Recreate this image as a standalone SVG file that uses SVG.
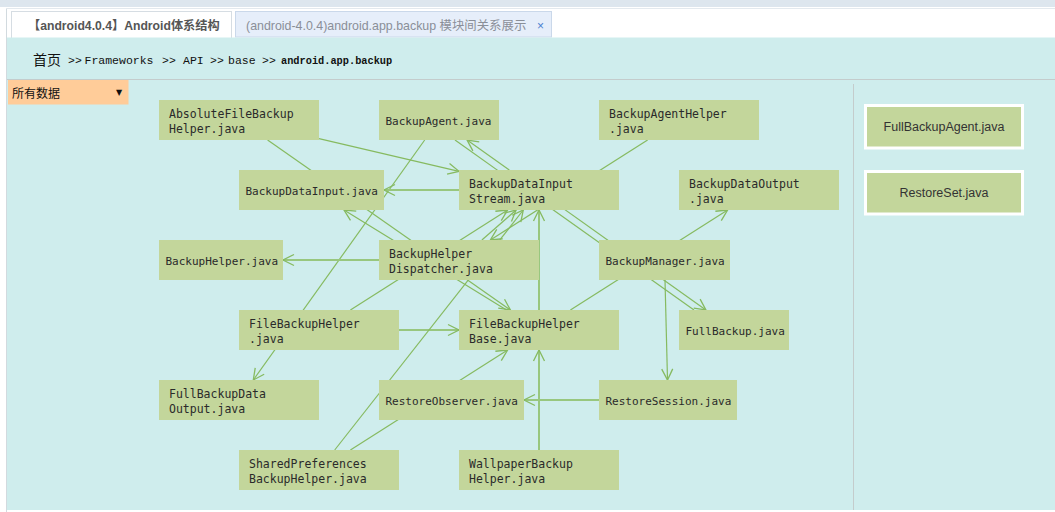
<svg xmlns="http://www.w3.org/2000/svg" width="1055" height="512" viewBox="0 0 1055 512">
<style>
.n rect{fill:#c3d69b}
.t{font-family:"DejaVu Sans Mono","Liberation Mono",monospace;fill:#2a2a2a}
.s{font-size:11px}
.d{font-size:11.5px}
.e{stroke:#86ba60;stroke-width:1.2;fill:none}
.h{stroke:#98c77e;stroke-width:2;fill:none}
.ar{marker-end:url(#a)}
.ab{marker-start:url(#b);marker-end:url(#a)}
.rp rect{fill:#c3d69b;stroke:#ffffff;stroke-width:3}
.rt{font-family:"Liberation Sans",Arial,sans-serif;font-size:12.5px;fill:#333;text-anchor:middle}
.bc{font-family:"Liberation Mono",monospace;font-size:11.5px;fill:#111}
</style>
<defs>
<marker id="a" markerUnits="userSpaceOnUse" markerWidth="24" markerHeight="24" refX="0" refY="0" viewBox="-12 -12 24 24" orient="auto" overflow="visible">
<path d="M-11,-5.5 L0,0 L-11,5.5" fill="none" stroke="#86ba60" stroke-width="1.3"/>
</marker>
<marker id="b" markerUnits="userSpaceOnUse" markerWidth="24" markerHeight="24" refX="0" refY="0" viewBox="-12 -12 24 24" orient="auto-start-reverse" overflow="visible">
<path d="M-11,-5.5 L0,0 L-11,5.5" fill="none" stroke="#86ba60" stroke-width="1.3"/>
</marker>
</defs>

<!-- page chrome -->
<rect x="0" y="0" width="1055" height="512" fill="#ffffff"/>
<rect x="0" y="0" width="1055" height="7" fill="#dde6ee"/>
<line x1="6.5" y1="8" x2="6.5" y2="512" stroke="#d2dadf"/>
<line x1="6" y1="8.5" x2="1055" y2="8.5" stroke="#e3e9ee"/>
<rect x="11.5" y="11.5" width="220" height="27" fill="#ffffff" stroke="#d6dde3"/>
<rect x="235.5" y="11.5" width="316" height="25.5" fill="#e6eefa" stroke="#cad8ea"/>
<text x="28" y="29.5" font-family="'Liberation Sans','Noto Sans CJK SC',sans-serif" font-size="12.2" font-weight="bold" fill="#555">【android4.0.4】Android体系结构</text>
<text x="246" y="29.5" font-family="'Liberation Sans','Noto Sans CJK SC',sans-serif" font-size="12.4" fill="#8a8f98">(android-4.0.4)android.app.backup 模块间关系展示</text>
<text x="537" y="29.5" font-family="'Liberation Sans',sans-serif" font-size="12" fill="#4a7fd0">×</text>
<rect x="7" y="37.5" width="1048" height="472.5" fill="#cfeded"/>
<line x1="7" y1="79.5" x2="1055" y2="79.5" stroke="#c4cccc"/>
<line x1="853.5" y1="84" x2="853.5" y2="510" stroke="#c4cccc"/>

<!-- breadcrumb -->
<text x="33" y="64.5" font-family="'Noto Sans CJK SC',sans-serif" font-size="14" fill="#111">首页</text>
<text class="bc" y="64"><tspan x="68">&gt;&gt;</tspan><tspan x="84.5">Frameworks</tspan><tspan x="162">&gt;&gt;</tspan><tspan x="183">API</tspan><tspan x="210">&gt;&gt;</tspan><tspan x="228">base</tspan><tspan x="262">&gt;&gt;</tspan></text>
<text x="281" y="64" font-family="'Liberation Mono',monospace" font-size="10.3" font-weight="bold" fill="#111">android.app.backup</text>

<!-- dropdown -->
<g id="filter">
<rect x="8" y="80" width="120.5" height="24.5" fill="#ffcc99"/>
<text x="12" y="98" font-family="'Noto Sans CJK SC',sans-serif" font-size="12" fill="#111">所有数据</text>
<text x="116" y="95" font-family="'DejaVu Sans',sans-serif" font-size="8" fill="#111">▼</text>
</g>

<!-- connectors -->
<g id="connectors">
<line class="e ar" x1="319" y1="138.7" x2="459" y2="171.3"/>
<line class="e ar" x1="267.6" y1="140" x2="510.4" y2="310"/>
<line class="e ar" x1="424.7" y1="140" x2="253.3" y2="380"/>
<line class="e ab" x1="467.1" y1="140" x2="705.9" y2="310"/>
<line class="e" x1="455" y1="140" x2="694" y2="310"/>
<line class="e ar" x1="647.6" y1="140" x2="490.4" y2="240"/>
<line class="h ar" x1="459" y1="190" x2="384" y2="190"/>
<line class="h ar" x1="379" y1="260" x2="283" y2="260"/>
<line class="e ar" x1="481.9" y1="240" x2="516.1" y2="210"/>
<line class="e ar" x1="350.4" y1="310" x2="507.6" y2="210"/>
<line class="h ar" x1="399" y1="330" x2="459" y2="330"/>
<line class="e ar" x1="506.5" y1="310" x2="344" y2="210"/>
<line class="h ar" x1="539" y1="310" x2="539" y2="210"/>
<line class="e ar" x1="570.4" y1="310" x2="727.6" y2="210"/>
<line class="e ar" x1="350.4" y1="450" x2="507.6" y2="350"/>
<line class="e ar" x1="334.7" y1="450" x2="523.3" y2="210"/>
<line class="h ar" x1="539" y1="450" x2="539" y2="350"/>
<line class="e ar" x1="665" y1="280" x2="667.5" y2="380"/>
<line class="h ar" x1="599" y1="400" x2="524" y2="400"/>
</g>

<!-- nodes -->
<g id="AbsoluteFileBackupHelper" class="n"><rect x="159" y="100" width="160" height="40"/><text class="t d" x="169" y="117.5">AbsoluteFileBackup</text><text class="t d" x="169" y="132.5">Helper.java</text></g>
<g id="BackupAgent" class="n"><rect x="379" y="100" width="120" height="40"/><text class="t s" x="385.5" y="124.5">BackupAgent.java</text></g>
<g id="BackupAgentHelper" class="n"><rect x="599" y="100" width="160" height="40"/><text class="t d" x="609" y="117.5">BackupAgentHelper</text><text class="t d" x="609" y="132.5">.java</text></g>
<g id="BackupDataInput" class="n"><rect x="239" y="170" width="145" height="40"/><text class="t s" x="245.5" y="194.5">BackupDataInput.java</text></g>
<g id="BackupDataInputStream" class="n"><rect x="459" y="170" width="160" height="40"/><text class="t d" x="469" y="187.5">BackupDataInput</text><text class="t d" x="469" y="202.5">Stream.java</text></g>
<g id="BackupDataOutput" class="n"><rect x="679" y="170" width="160" height="40"/><text class="t d" x="689" y="187.5">BackupDataOutput</text><text class="t d" x="689" y="202.5">.java</text></g>
<g id="BackupHelper" class="n"><rect x="159" y="240" width="124" height="40"/><text class="t s" x="165.5" y="264.5">BackupHelper.java</text></g>
<g id="BackupHelperDispatcher" class="n"><rect x="379" y="240" width="160" height="40"/><text class="t d" x="389" y="257.5">BackupHelper</text><text class="t d" x="389" y="272.5">Dispatcher.java</text></g>
<g id="BackupManager" class="n"><rect x="599" y="240" width="131" height="40"/><text class="t s" x="605.5" y="264.5">BackupManager.java</text></g>
<g id="FileBackupHelper" class="n"><rect x="239" y="310" width="160" height="40"/><text class="t d" x="249" y="327.5">FileBackupHelper</text><text class="t d" x="249" y="342.5">.java</text></g>
<g id="FileBackupHelperBase" class="n"><rect x="459" y="310" width="160" height="40"/><text class="t d" x="469" y="327.5">FileBackupHelper</text><text class="t d" x="469" y="342.5">Base.java</text></g>
<g id="FullBackup" class="n"><rect x="679" y="310" width="110" height="40"/><text class="t s" x="685.5" y="334.5">FullBackup.java</text></g>
<g id="FullBackupDataOutput" class="n"><rect x="159" y="380" width="160" height="40"/><text class="t d" x="169" y="397.5">FullBackupData</text><text class="t d" x="169" y="412.5">Output.java</text></g>
<g id="RestoreObserver" class="n"><rect x="379" y="380" width="145" height="40"/><text class="t s" x="385.5" y="404.5">RestoreObserver.java</text></g>
<g id="RestoreSession" class="n"><rect x="599" y="380" width="138" height="40"/><text class="t s" x="605.5" y="404.5">RestoreSession.java</text></g>
<g id="SharedPreferencesBackupHelper" class="n"><rect x="239" y="450" width="160" height="40"/><text class="t d" x="249" y="467.5">SharedPreferences</text><text class="t d" x="249" y="482.5">BackupHelper.java</text></g>
<g id="WallpaperBackupHelper" class="n"><rect x="459" y="450" width="160" height="40"/><text class="t d" x="469" y="467.5">WallpaperBackup</text><text class="t d" x="469" y="482.5">Helper.java</text></g>

<!-- right panel -->
<g id="FullBackupAgent" class="rp"><rect x="865.5" y="105.5" width="157" height="42.5"/><text class="rt" x="944" y="131">FullBackupAgent.java</text></g>
<g id="RestoreSet" class="rp"><rect x="865.5" y="171.5" width="157" height="42.5"/><text class="rt" x="944" y="197">RestoreSet.java</text></g>
</svg>
